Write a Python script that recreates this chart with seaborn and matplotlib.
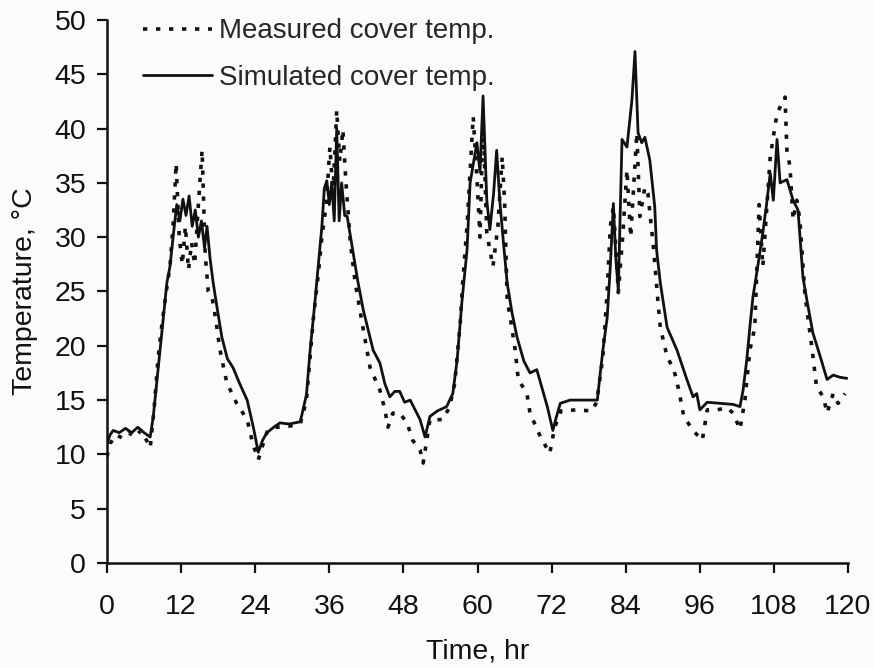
import matplotlib
matplotlib.use("Agg")
import matplotlib.pyplot as plt
import seaborn as sns

# simulated cover temperature (hr, degC)
sim_t = [0, 0.5, 1, 2, 3, 4, 5, 6, 7, 7.5, 8.3, 9.1, 9.7, 10.2, 10.8, 11.3, 11.8,
         12.3, 12.8, 13.3, 13.8, 14.3, 14.8, 15.3, 15.8, 16.2, 16.7, 17.2, 17.8,
         18.6, 19.5, 20.4, 21.5, 22.7, 23.7, 24.5, 25.2, 25.9, 27, 28, 29.5, 31.3,
         32.3, 32.9, 33.7, 34.2, 34.8, 35.2, 35.6, 36.0, 36.4, 36.8, 37.2, 37.6,
         38.0, 38.5, 38.9, 39.8, 40.6, 41.5, 43.1, 44.2, 45.0, 45.8, 46.6, 47.4,
         48.2, 49.1, 50.0, 50.7, 51.5, 52.3, 53.5, 55.0, 56.0, 56.7, 57.5, 58.3,
         58.8, 59.4, 59.9, 60.4, 60.9, 61.5, 62.0, 62.6, 63.1, 63.6, 64.2, 64.8,
         65.6, 66.4, 67.5, 68.5, 69.6, 70.5, 71.3, 72.2, 72.8, 73.4, 75, 77, 79.4,
         79.8, 80.3, 81.0, 81.5, 82.0, 82.4, 82.8, 83.4, 84.2, 85.0, 85.5, 86.0,
         86.6, 87.1, 87.9, 88.7, 89.0, 89.6, 90.7, 92.3, 93.9, 94.9, 95.5, 96.0,
         97.2, 99.3, 101.4, 102.5, 103.0, 103.6, 104.1, 104.6, 105.3, 106.2,
         106.8, 107.4, 107.9, 108.5, 109.0, 110.1, 111.1, 111.9, 112.7, 113.4,
         114.3, 115.5, 116.6, 117.6, 118.7, 119.8]
sim_temp = [11.0, 11.8, 12.2, 12.0, 12.4, 12.0, 12.5, 12.0, 11.6, 13.5, 18.0, 22.6,
            25.8, 27.3, 30.5, 33.0, 31.5, 33.5, 32.0, 33.8, 31.0, 32.5, 30.0, 31.5,
            29.0, 31.0, 28.0, 25.8, 23.6, 20.8, 18.8, 18.0, 16.5, 15.0, 12.5, 10.2,
            11.3, 12.0, 12.5, 12.9, 12.8, 13.0, 15.5, 19.6, 24.2, 27.3, 31.0, 34.5,
            35.2, 33.0, 35.0, 31.5, 40.0, 31.5, 35.0, 32.0, 31.9, 28.8, 26.0, 23.3,
            19.6, 18.4, 16.5, 15.3, 15.8, 15.8, 14.8, 15.0, 14.0, 13.2, 11.6, 13.5,
            14.0, 14.4, 15.6, 18.7, 24.2, 28.8, 35.0, 37.0, 38.7, 36.0, 43.0, 33.4,
            30.7, 34.0, 38.0, 33.4, 29.5, 25.8, 23.0, 20.8, 18.6, 17.5, 17.8, 16.0,
            14.4, 12.2, 13.5, 14.7, 15.0, 15.0, 15.0, 17.1, 19.6, 22.6, 27.3, 33.1,
            28.0, 25.1, 39.0, 38.3, 42.6, 47.1, 39.6, 38.7, 39.2, 37.1, 32.8, 28.8,
            25.8, 21.7, 19.6, 16.9, 15.3, 15.6, 14.1, 14.8, 14.7, 14.6, 14.4, 15.9,
            18.7, 21.7, 24.5, 27.0, 30.4, 33.0, 35.9, 33.4, 39.0, 35.0, 35.3, 33.4,
            32.5, 26.3, 24.0, 21.2, 19.0, 16.9, 17.3, 17.1, 17.0]

# measured cover temperature (hr, degC)
meas_t = [0, 0.5, 1.5, 2.5, 3.5, 4.5, 5.5, 6.5, 7.0, 7.6, 8.3, 8.9, 9.6, 10.2, 10.7,
          11.2, 11.7, 12.2, 12.7, 13.2, 13.7, 14.2, 14.8, 15.4, 15.9, 16.4, 17.0,
          17.6, 18.3, 19.4, 21.0, 22.7, 23.6, 24.5, 25.3, 26.0, 27.5, 29.5, 31.3,
          32.3, 33.4, 34.2, 34.8, 35.5, 36.1, 36.6, 37.2, 37.7, 38.2, 38.7, 39.4,
          40.2, 41.5, 42.6, 44.2, 45.0, 45.5, 46.3, 47.4, 48.6, 49.5, 50.7, 51.2,
          52.3, 54.4, 55.5, 56.3, 57.2, 57.6, 58.3, 58.8, 59.3, 59.9, 60.4, 60.9,
          61.5, 62.5, 63.3, 64.0, 64.4, 64.8, 65.3, 66.1, 66.6, 68.0, 68.5, 70.2,
          71.7, 72.5, 73.5, 76.0, 78.5, 79.3, 80.3, 81.0, 81.5, 82.0, 82.5, 82.8,
          83.5, 84.2, 84.8, 85.8, 86.3, 87.1, 87.6, 88.5, 89.2, 89.6, 90.7, 91.8,
          92.6, 93.4, 94.9, 96.4, 97.2, 98.8, 100.4, 101.4, 102.5, 103.3, 104.1,
          104.9, 105.6, 106.2, 107.4, 108.5, 109.8, 110.1, 110.6, 111.1, 111.7,
          112.2, 113.0, 113.5, 114.2, 114.9, 116.0, 116.6, 117.6, 118.4, 119.5]
meas_temp = [9.8, 11.0, 11.8, 11.5, 12.0, 11.6, 12.2, 11.2, 10.6, 14.0, 19.0, 22.0,
             25.0, 27.3, 31.0, 36.8, 30.0, 27.5, 31.0, 27.0, 29.5, 27.5, 33.0, 38.0,
             28.5, 25.0, 24.5, 22.5, 19.6, 16.6, 14.7, 13.2, 11.0, 9.5, 11.0, 12.2,
             12.5, 12.6, 12.8, 15.0, 22.4, 26.5, 30.0, 33.0, 38.3, 34.0, 41.7, 37.0,
             39.9, 35.0, 29.5, 25.8, 21.5, 18.0, 15.9, 14.1, 12.5, 13.8, 13.8, 12.9,
             11.3, 10.4, 9.2, 13.2, 13.2, 14.4, 16.5, 22.1, 25.8, 31.0, 36.0, 41.1,
             35.5, 30.0, 41.0, 30.4, 27.3, 31.0, 37.4, 33.0, 24.2, 22.6, 19.6, 16.9,
             15.6, 13.8, 11.6, 10.1, 12.5, 14.0, 14.1, 14.0, 14.8, 19.0, 25.0, 31.0,
             32.8, 28.0, 24.9, 30.0, 36.2, 30.0, 39.6, 31.9, 34.6, 34.0, 29.0, 24.2,
             21.7, 19.0, 17.8, 15.9, 13.5, 12.2, 11.3, 14.1, 14.1, 14.3, 13.8, 12.3,
             15.0, 19.6, 21.7, 33.0, 27.3, 37.4, 41.4, 42.9, 38.0, 36.5, 31.6, 33.4,
             31.6, 24.9, 22.6, 19.6, 16.2, 15.3, 13.8, 15.6, 14.7, 15.6]

x_ticks = [0, 12, 24, 36, 48, 60, 72, 84, 96, 108, 120]
y_ticks = [0, 5, 10, 15, 20, 25, 30, 35, 40, 45, 50]

sns.set_style("ticks")
plt.rcParams["font.family"] = ["Liberation Sans", "DejaVu Sans"]

ink = "#111111"
paper = "#fbfbfa"

fig = plt.figure(figsize=(8.74, 6.68), dpi=100)
fig.set_facecolor(paper)
ax = fig.add_axes([0.1224, 0.1572, 0.8479, 0.8129])
ax.patch.set_facecolor(paper)

sns.lineplot(x=meas_t, y=meas_temp, ax=ax, color=ink, lw=2.6,
             linestyle=(0, (1.2, 2.4)), sort=False, estimator=None,
             label="Measured cover temp.")
sns.lineplot(x=sim_t, y=sim_temp, ax=ax, color=ink, lw=2.0,
             sort=False, estimator=None, label="Simulated cover temp.")

ax.set_xlim(0, 120)
ax.set_ylim(0, 50)
ax.set_xticks(x_ticks)
ax.set_yticks(y_ticks)

for s in ["top", "right"]:
    ax.spines[s].set_visible(False)
for s in ["left", "bottom"]:
    ax.spines[s].set_linewidth(1.8)
    ax.spines[s].set_color(ink)

ax.tick_params(axis="both", direction="out", length=7, width=1.6,
               color=ink, labelcolor=ink, labelsize=20.5)
ax.tick_params(axis="x", pad=15)
ax.tick_params(axis="y", pad=8)

ax.set_xlabel("Time, hr", fontsize=20.5, color=ink, labelpad=14)
ax.set_ylabel("Temperature, °C", fontsize=20.5, color=ink, labelpad=12)

handles, labels = ax.get_legend_handles_labels()
ax.legend(handles, labels, loc="upper left", bbox_to_anchor=(0.0486, 1.003),
          frameon=False, fontsize=20, handlelength=2.5, handletextpad=0.25,
          labelspacing=0.75, borderpad=0, borderaxespad=0)

fig.savefig("out.png", dpi=100, facecolor=paper)
